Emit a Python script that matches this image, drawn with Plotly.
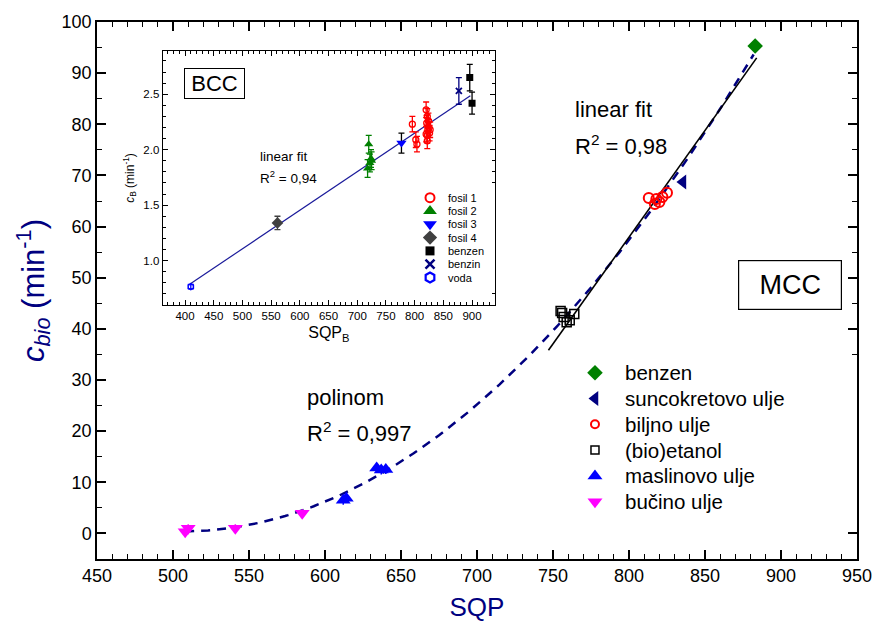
import numpy as np
import plotly.graph_objects as go

FONT = "Liberation Sans, Arial, sans-serif"
NAVY = "#000080"

# ---------------- main plot data (MCC) ----------------
benzen_x = [883.0]
benzen_y = [95.3]
sunc_x = [835.5]
sunc_y = [68.7]
biljno_x = [813, 817, 820, 822, 825, 818]
biljno_y = [65.6, 64.4, 64.8, 65.8, 66.6, 65.4]
etanol_x = [755, 757, 761, 764, 759, 756]
etanol_y = [43.5, 42.3, 41.7, 42.9, 41.3, 43.1]
maslin_x = [612, 614, 634, 637, 640]
maslin_y = [6.5, 6.9, 12.8, 12.4, 12.5]
maslin_err = [0.9, 0.9, 0.9, 0.9, 0.9]
bucino_x = [508, 510, 541, 585]
bucino_y = [0.35, 1.0, 1.0, 3.95]
bucino_err = [0.8, 0.8, 0.8, 0.8]

main_labels = ["benzen", "suncokretovo ulje", "biljno ulje", "(bio)etanol",
               "maslinovo ulje", "bučino ulje"]

# ---------------- inset data (BCC) ----------------
f1_x = [796, 802, 804, 820, 821, 822, 822, 823, 824, 825, 826, 827, 822, 820]
f1_y = [2.23, 2.09, 2.05, 2.36, 2.24, 2.30, 2.13, 2.18, 2.26, 2.20, 2.15, 2.18, 2.08, 2.14]
f1_e = [0.07] * 14
f2_x = [718, 720, 722, 724, 725]
f2_y = [1.83, 2.05, 1.88, 1.92, 1.90]
f2_e = [0.08] * 5
f3_x = [777]
f3_y = [2.06]
f3_e = [0.09]
f4_x = [561]
f4_y = [1.34]
f4_e = [0.06]
bz_x = [896, 900]
bz_y = [2.65, 2.42]
bz_e = [0.12, 0.10]
bn_x = [877]
bn_y = [2.53]
bn_e = [0.12]
voda_x = [410]
voda_y = [0.765]
voda_e = [0.02]

inset_labels = ["fosil 1", "fosil 2", "fosil 3", "fosil 4", "benzen", "benzin", "voda"]

fig = go.Figure()

# ---- fits (main) ----
all_x = np.array(benzen_x + sunc_x + biljno_x + etanol_x + maslin_x + bucino_x, float)
all_y = np.array(benzen_y + sunc_y + biljno_y + etanol_y + maslin_y + bucino_y, float)
poly = np.polyfit(all_x, all_y, 3)
px = np.linspace(508, 882, 200)
fig.add_trace(go.Scatter(x=px, y=np.polyval(poly, px), mode="lines",
                         line=dict(color=NAVY, width=2.5, dash="9px,7px"),
                         hoverinfo="skip"))

gx = np.array([np.mean(etanol_x), np.mean(biljno_x), sunc_x[0], benzen_x[0]])
gy = np.array([np.mean(etanol_y), np.mean(biljno_y), sunc_y[0], benzen_y[0]])
lin = np.polyfit(gx, gy, 1)
lx = np.array([747.0, 884.0])
fig.add_trace(go.Scatter(x=lx, y=np.polyval(lin, lx), mode="lines",
                         line=dict(color="black", width=1.6), hoverinfo="skip"))

# ---- main markers ----
main_styles = [
    dict(symbol="diamond", color="#008000", size=12),
    dict(symbol="triangle-left", color=NAVY, size=13),
    dict(symbol="circle-open", color="#FF0000", size=10, line=dict(width=2, color="#FF0000")),
    dict(symbol="square-open", color="black", size=9, line=dict(width=1.5, color="black")),
    dict(symbol="triangle-up", color="#0000FF", size=13),
    dict(symbol="triangle-down", color="#FF00FF", size=13),
]
main_data = [(benzen_x, benzen_y, None), (sunc_x, sunc_y, None), (biljno_x, biljno_y, None),
             (etanol_x, etanol_y, None), (maslin_x, maslin_y, maslin_err),
             (bucino_x, bucino_y, bucino_err)]
for (x, y, e), st in zip(main_data, main_styles):
    kw = {}
    if e is not None:
        kw["error_y"] = dict(type="data", array=e, color=st["color"], thickness=1.5, width=0)
    fig.add_trace(go.Scatter(x=x, y=y, mode="markers", marker=st, **kw))

# ---- inset fit ----
ix = np.array(f1_x + f2_x + f3_x + f4_x + bz_x + bn_x + voda_x, float)
iy = np.array(f1_y + f2_y + f3_y + f4_y + bz_y + bn_y + voda_y, float)
ilin = np.polyfit(ix, iy, 1)
ilx = np.array([410.0, 897.0])
fig.add_trace(go.Scatter(x=ilx, y=np.polyval(ilin, ilx), mode="lines", xaxis="x2", yaxis="y2",
                         line=dict(color="#1a1a9a", width=1.2), hoverinfo="skip"))

inset_styles = [
    dict(symbol="circle-open", color="#FF0000", size=6, line=dict(width=1.3, color="#FF0000")),
    dict(symbol="triangle-up", color="#008000", size=8),
    dict(symbol="triangle-down", color="#0000FF", size=9),
    dict(symbol="diamond", color="#404040", size=9),
    dict(symbol="square", color="black", size=7),
    dict(symbol="x-thin-open", color=NAVY, size=6, line=dict(width=1.8, color=NAVY)),
    dict(symbol="hexagon-open", color="#0000FF", size=6, line=dict(width=1.5, color="#0000FF")),
]
inset_err_col = ["#FF0000", "#008000", "black", "#404040", "black", NAVY, "#0000FF"]
inset_data = [(f1_x, f1_y, f1_e), (f2_x, f2_y, f2_e), (f3_x, f3_y, f3_e), (f4_x, f4_y, f4_e),
              (bz_x, bz_y, bz_e), (bn_x, bn_y, bn_e), (voda_x, voda_y, voda_e)]
for (x, y, e), st, ec in zip(inset_data, inset_styles, inset_err_col):
    fig.add_trace(go.Scatter(x=x, y=y, mode="markers", xaxis="x2", yaxis="y2", marker=st,
                             error_y=dict(type="data", array=e, color=ec, thickness=1.3, width=3)))

# ---- inset legend (keys on hidden axes x3/y3) ----
inset_leg_styles = [
    dict(symbol="circle-open", color="#FF0000", size=9, line=dict(width=2, color="#FF0000")),
    dict(symbol="triangle-up", color="#008000", size=12),
    dict(symbol="triangle-down", color="#0000FF", size=12),
    dict(symbol="diamond", color="#404040", size=11),
    dict(symbol="square", color="black", size=9),
    dict(symbol="x-thin-open", color=NAVY, size=9, line=dict(width=2.5, color=NAVY)),
    dict(symbol="hexagon-open", color="#0000FF", size=10, line=dict(width=2.2, color="#0000FF")),
]
annotations = []
for i, (lab, st) in enumerate(zip(inset_labels, inset_leg_styles)):
    fig.add_trace(go.Scatter(x=[0], y=[-i], mode="markers", xaxis="x3", yaxis="y3", marker=st,
                             hoverinfo="skip"))
    annotations.append(dict(x=16, y=-i, xref="x3", yref="y3", text=lab, showarrow=False,
                            xanchor="left", yanchor="middle",
                            font=dict(family=FONT, size=11, color="black")))

# ---- main legend (keys on hidden axes x4/y4) ----
main_leg_styles = [
    dict(symbol="diamond", color="#008000", size=12),
    dict(symbol="triangle-left", color=NAVY, size=13),
    dict(symbol="circle-open", color="#FF0000", size=8, line=dict(width=2, color="#FF0000")),
    dict(symbol="square-open", color="black", size=8, line=dict(width=1.5, color="black")),
    dict(symbol="triangle-up", color="#0000FF", size=13),
    dict(symbol="triangle-down", color="#FF00FF", size=13),
]
for i, (lab, st) in enumerate(zip(main_labels, main_leg_styles)):
    fig.add_trace(go.Scatter(x=[0], y=[-i], mode="markers", xaxis="x4", yaxis="y4", marker=st,
                             hoverinfo="skip"))
    annotations.append(dict(x=28, y=-i, xref="x4", yref="y4", text=lab, showarrow=False,
                            xanchor="left", yanchor="middle",
                            font=dict(family=FONT, size=20.5, color="black")))

# ---- text annotations ----
tf = dict(family=FONT, color="black")
annotations += [
    dict(x=763, y=82.8, xref="x", yref="y", text="linear fit", showarrow=False,
         xanchor="left", yanchor="middle", font=dict(size=22, **tf)),
    dict(x=763, y=75.9, xref="x", yref="y", text="R<sup>2</sup> = 0,98", showarrow=False,
         xanchor="left", yanchor="middle", font=dict(size=22, **tf)),
    dict(x=587, y=26.5, xref="x", yref="y", text="polinom", showarrow=False,
         xanchor="left", yanchor="middle", font=dict(size=22, **tf)),
    dict(x=587, y=19.8, xref="x", yref="y", text="R<sup>2</sup> = 0,997", showarrow=False,
         xanchor="left", yanchor="middle", font=dict(size=22, **tf)),
    dict(x=906, y=48.5, xref="x", yref="y", text="MCC", showarrow=False,
         xanchor="center", yanchor="middle", width=102, height=48,
         bordercolor="black", borderwidth=1.2, borderpad=0, bgcolor="white",
         font=dict(size=27, **tf)),
    dict(x=527, y=1.935, xref="x2", yref="y2", text="linear fit", showarrow=False,
         xanchor="left", yanchor="middle", font=dict(size=13.5, **tf)),
    dict(x=527, y=1.755, xref="x2", yref="y2", text="R<sup>2</sup> = 0,94", showarrow=False,
         xanchor="left", yanchor="middle", font=dict(size=13.5, **tf)),
    dict(x=450.5, y=2.593, xref="x2", yref="y2", text="BCC", showarrow=False,
         xanchor="center", yanchor="middle", width=59, height=29,
         bordercolor="black", borderwidth=1, borderpad=0, bgcolor="white",
         font=dict(size=22, **tf)),
]

axis_common = dict(showline=True, linecolor="black", mirror="ticks", ticks="inside",
                   showgrid=False, zeroline=False, tickcolor="black", automargin=False)

fig.update_layout(
    width=872, height=628,
    margin=dict(l=97, r=15, t=22, b=69),
    paper_bgcolor="white", plot_bgcolor="white",
    showlegend=False,
    font=dict(family=FONT, color="black"),
    xaxis=dict(range=[450, 950], tick0=450, dtick=50, ticklen=9, tickwidth=1.5, linewidth=1.5,
               minor=dict(ticks="inside", dtick=10, ticklen=5, tickwidth=1.2, tickcolor="black"),
               tickfont=dict(size=18, family=FONT), ticklabeloverflow="allow",
               title=dict(text="SQP", font=dict(size=26, color=NAVY, family=FONT), standoff=12),
               **axis_common),
    yaxis=dict(range=[-5, 100], tick0=0, dtick=10, ticklen=9, tickwidth=1.5, linewidth=1.5,
               minor=dict(ticks="inside", dtick=5, ticklen=5, tickwidth=1.2, tickcolor="black"),
               tickfont=dict(size=18, family=FONT), ticklabeloverflow="allow",
               title=dict(text="<i>c</i><sub><i>bio</i></sub> (min<sup>-1</sup>)",
                          font=dict(size=31, color=NAVY, family=FONT), standoff=8),
               **axis_common),
    xaxis2=dict(domain=[0.0864, 0.5237], anchor="y2", range=[361, 940], tick0=400, dtick=50,
                ticklen=5, tickwidth=1, linewidth=1,
                minor=dict(ticks="inside", dtick=10, ticklen=3, tickwidth=1, tickcolor="black"),
                tickfont=dict(size=11.5, family=FONT),
                title=dict(text="SQP<sub>B</sub>", font=dict(size=16, family=FONT), standoff=6),
                **axis_common),
    yaxis2=dict(domain=[0.473, 0.946], anchor="x2", range=[0.6, 2.89], tick0=0, dtick=0.5,
                tickformat=".1f", ticklen=5, tickwidth=1, linewidth=1,
                minor=dict(ticks="inside", dtick=0.1, ticklen=3, tickwidth=1, tickcolor="black"),
                tickfont=dict(size=11.5, family=FONT),
                title=dict(text="<i>c</i><sub>B</sub> (min<sup>-1</sup>)",
                           font=dict(size=12, family=FONT), standoff=6),
                **axis_common),
    xaxis3=dict(domain=[0.425, 0.5237], anchor="y3", range=[-10, 65], visible=False, fixedrange=True),
    yaxis3=dict(domain=[0.5009, 0.6965], anchor="x3", range=[-6.94, 0.955], visible=False, fixedrange=True),
    xaxis4=dict(domain=[0.6355, 1.0], anchor="y4", range=[-15, 262], visible=False, fixedrange=True),
    yaxis4=dict(domain=[0.0726, 0.3799], anchor="x4", range=[-5.709, 0.686], visible=False, fixedrange=True),
    annotations=annotations,
)

# remove the default page margin so the 872x628 figure fills the window exactly
fig.write_html("out.html", config={"displayModeBar": False},
               post_script="document.body.style.margin='0';document.body.style.overflow='hidden';")
